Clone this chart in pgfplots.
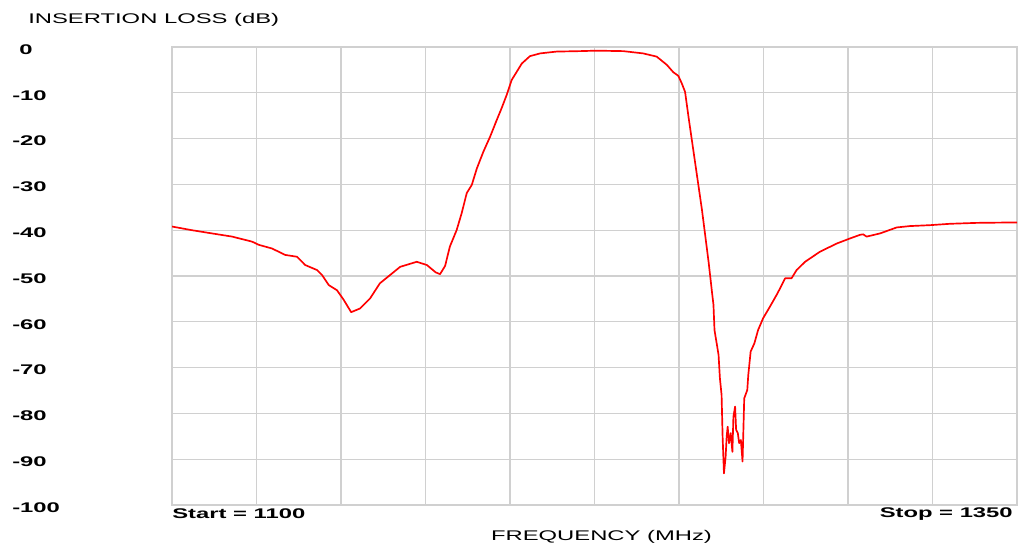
\documentclass[border=0pt]{standalone}
\usepackage{fontspec}
\usepackage{pgfplots}
\pgfplotsset{compat=1.18}
\newfontfamily\wf{Liberation Sans}[FakeStretch=1.7]
\definecolor{gridgray}{RGB}{208,208,208}
\begin{document}
\begin{tikzpicture}
\useasboundingbox (-122.86pt,-28.57pt) rectangle (604.29pt,360.71pt);
\begin{axis}[
  at={(0,0)}, anchor=south west,
  scale only axis,
  width=603.57pt, height=327.14pt,
  xmin=1100, xmax=1350, ymin=-100, ymax=0,
  xtick={1100,1125,...,1350},
  ytick={-100,-90,...,0},
  xticklabels={},
  yticklabels={-100,-90,-80,-70,-60,-50,-40,-30,-20,-10,\hspace{5pt}0},
  yticklabel style={anchor=west, inner sep=0pt, xshift=-114.3pt, yshift=-1.8pt, font=\wf\bfseries},
  major tick length=0pt,
  grid=major,
  grid style={gridgray, line width=0.9pt},
  axis line style={gridgray, line width=0.9pt},
  clip=true,
]
\addplot[red, line width=1.2pt, line join=round] coordinates {
(1100.0,-39.2) (1105.9,-40.0) (1111.8,-40.7) (1117.8,-41.4) (1123.7,-42.5)
(1125.7,-43.2) (1129.6,-44.0) (1133.5,-45.4) (1137.0,-45.8) (1139.4,-47.6)
(1142.9,-48.7) (1144.4,-49.8) (1146.4,-52.0) (1148.8,-53.1) (1150.8,-55.2)
(1153.0,-57.9) (1155.6,-57.1) (1158.6,-54.9) (1161.5,-51.6) (1164.5,-49.8)
(1167.5,-48.0) (1172.4,-46.9) (1175.4,-47.6) (1178.0,-49.2) (1179.3,-49.6)
(1180.8,-47.8) (1182.2,-43.6) (1184.2,-40.0) (1185.7,-36.3) (1187.2,-31.9)
(1188.7,-30.1) (1190.2,-26.5) (1192.1,-22.9) (1194.1,-19.6) (1196.1,-15.9)
(1197.5,-13.4) (1199.0,-10.5) (1200.5,-7.2) (1203.5,-3.6) (1205.9,-2.0)
(1208.9,-1.4) (1213.8,-1.0) (1220.7,-0.9) (1225.6,-0.8) (1233.5,-0.9)
(1239.4,-1.4) (1243.4,-2.1) (1246.4,-3.9) (1248.3,-5.5) (1249.8,-6.3)
(1250.8,-7.9) (1251.8,-9.8) (1252.8,-15.2) (1253.8,-20.3) (1254.8,-25.4)
(1255.8,-30.5) (1256.8,-35.6) (1257.8,-41.4) (1258.8,-47.2) (1259.8,-53.8)
(1260.2,-56.3) (1260.5,-61.8) (1261.7,-67.2) (1262.1,-72.3)
(1262.6,-76.0) (1262.9,-85.0) (1263.3,-93.1) (1263.8,-89.4) (1264.1,-85.1)
(1264.4,-82.9) (1264.8,-86.5) (1265.3,-84.3) (1265.8,-88.4) (1266.1,-80.7)
(1266.6,-78.5) (1266.9,-83.6) (1267.4,-84.3) (1267.8,-86.5) (1268.3,-85.8)
(1268.8,-90.5) (1269.0,-85.1) (1269.3,-76.7) (1270.2,-74.9) (1270.5,-71.6)
(1271.2,-66.5) (1272.3,-64.7) (1273.4,-61.8) (1274.9,-59.2) (1276.9,-56.7)
(1278.9,-54.1) (1279.9,-52.7) (1281.4,-50.5) (1283.3,-50.5) (1284.8,-48.7)
(1287.3,-46.9) (1291.7,-44.7) (1296.7,-42.9) (1300.6,-41.8) (1303.6,-41.0)
(1304.5,-40.9) (1305.5,-41.4) (1309.5,-40.7) (1314.4,-39.4) (1318.3,-39.1)
(1324.3,-38.9) (1330.2,-38.6) (1338.1,-38.4) (1350.0,-38.3)
};
\end{axis}
\node[anchor=west, inner sep=0pt, font=\wf] at (-102.86pt,346.43pt) {INSERTION LOSS (dB)};
\node[anchor=west, inner sep=0pt, font=\wf\bfseries] at (0pt,-6.4pt) {Start = 1100};
\node[anchor=east, inner sep=0pt, font=\wf\bfseries] at (600.7pt,-6.4pt) {Stop = 1350};
\node[inner sep=0pt, font=\wf] at (306.8pt,-22.9pt) {FREQUENCY (MHz)};
\end{tikzpicture}
\end{document}
